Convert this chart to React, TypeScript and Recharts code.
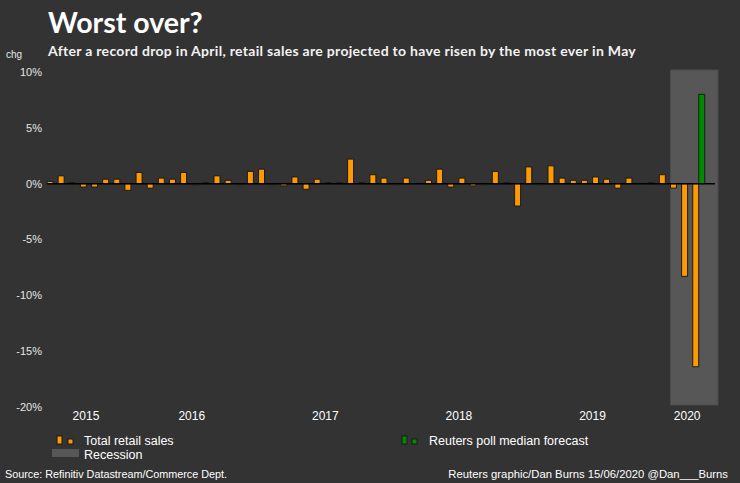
import { BarChart, Bar, XAxis, YAxis, ReferenceArea, ReferenceLine } from 'recharts';

document.body.style.margin = '0';

// monthly categories, Jun 2015 - May 2020
const months = [
  'Jun 2015', 'Jul 2015', 'Aug 2015', 'Sep 2015', 'Oct 2015', 'Nov 2015', 'Dec 2015',
  'Jan 2016', 'Feb 2016', 'Mar 2016', 'Apr 2016', 'May 2016', 'Jun 2016', 'Jul 2016', 'Aug 2016', 'Sep 2016', 'Oct 2016', 'Nov 2016', 'Dec 2016',
  'Jan 2017', 'Feb 2017', 'Mar 2017', 'Apr 2017', 'May 2017', 'Jun 2017', 'Jul 2017', 'Aug 2017', 'Sep 2017', 'Oct 2017', 'Nov 2017', 'Dec 2017',
  'Jan 2018', 'Feb 2018', 'Mar 2018', 'Apr 2018', 'May 2018', 'Jun 2018', 'Jul 2018', 'Aug 2018', 'Sep 2018', 'Oct 2018', 'Nov 2018', 'Dec 2018',
  'Jan 2019', 'Feb 2019', 'Mar 2019', 'Apr 2019', 'May 2019', 'Jun 2019', 'Jul 2019', 'Aug 2019', 'Sep 2019', 'Oct 2019', 'Nov 2019', 'Dec 2019',
  'Jan 2020', 'Feb 2020', 'Mar 2020', 'Apr 2020', 'May 2020',
];

// total retail sales, % change m/m
const retailSales: (number | null)[] = [
  0.2, 0.7, 0.1, -0.3, -0.3, 0.4, 0.4,
  -0.6, 1.0, -0.4, 0.5, 0.4, 1.0, -0.1, 0.1, 0.7, 0.3, -0.1, 1.1,
  1.3, -0.1, -0.2, 0.6, -0.5, 0.4, 0.1, 0.1, 2.2, 0.1, 0.8, 0.5,
  -0.1, 0.5, 0, 0.3, 1.3, -0.3, 0.5, -0.2, -0.1, 1.1, 0.1, -2.0,
  1.5, -0.1, 1.6, 0.5, 0.3, 0.3, 0.6, 0.4, -0.4, 0.5, 0, 0.1,
  0.8, -0.4, -8.3, -16.4, null,
];

// reuters poll median, drawn in the slot next to the last actual
const forecastMonth = 'Apr 2020';
const forecastValue = 8.0;

const years = ['2015', '2016', '2017', '2018', '2019', '2020'];
const yTicks = [-20, -15, -10, -5, 0, 5, 10];
const recessionStart = 'Feb 2020';
const recessionEnd = 'May 2020';

const ORANGE = '#ff9900';
const GREEN = '#008a00';
const BG = '#333333';
const SHADE = '#575757';

const W = 740;
const H = 483;
const M = { top: 72, right: 25, bottom: 56, left: 7 };
const Y_W = 40;
const BAND = (W - M.left - M.right - Y_W) / months.length;

const data = months.map((m, i) => ({
  month: m,
  sales: retailSales[i],
  forecast: m === forecastMonth ? forecastValue : null,
}));

// first month of each year + how many months that year has on the chart
const yearFirst = years.map((y) => months.find((m) => m.endsWith(y)) as string);
const yearCount = years.map((y) => months.filter((m) => m.endsWith(y)).length);

const font = '"Liberation Sans", Arial, sans-serif';

function YearTick(props: any) {
  const { x, y, payload } = props;
  const i = yearFirst.indexOf(payload.value);
  if (i < 0) return null;
  const cx = x + ((yearCount[i] - 1) * BAND) / 2;
  return (
    <text x={cx} y={y + 11} textAnchor="middle" fill="#ffffff" fontSize={12} fontFamily={font}>
      {years[i]}
    </text>
  );
}

// excel-style shading runs a touch past the plot edge
function RecessionShape(props: any) {
  const { x, y, width, height } = props;
  return <rect x={x} y={y - 2} width={width + 3} height={height}
    fill={SHADE} stroke="#4c4c4c" />;
}

export default function App() {
  return (
    <div style={{ position: 'relative', width: W, height: H, background: BG, overflow: 'hidden' }}>
      <BarChart width={W} height={H} data={data} barCategoryGap={0} barGap={0} margin={M}>
        <XAxis dataKey="month" ticks={yearFirst} interval={0} tick={<YearTick />}
          axisLine={false} tickLine={false} tickSize={0} tickMargin={2} height={20} />
        <YAxis domain={[-20, 10]} ticks={yTicks} interval={0} width={Y_W}
          tickFormatter={(v: number) => `${v}%`} axisLine={false} tickLine={false}
          tickSize={0} tickMargin={5} tick={{ fill: '#e6e6e6', fontSize: 11, fontFamily: font }} />
        <ReferenceArea x1={recessionStart} x2={recessionEnd} y1={-20} y2={10}
          ifOverflow="visible" shape={<RecessionShape />} />
        <Bar dataKey="sales" fill={ORANGE} stroke="#1a1a1a" strokeWidth={1} isAnimationActive={false} />
        <Bar dataKey="forecast" fill={GREEN} stroke="#1a1a1a" strokeWidth={1} isAnimationActive={false} />
        <ReferenceLine y={0} stroke="#000000" strokeWidth={1.5} />
      </BarChart>

      <svg width={W} height={H} style={{ position: 'absolute', left: 0, top: 0, pointerEvents: 'none' }}>
        <text x={48} y={33} fill="#ffffff" fontFamily="Lato, sans-serif" fontWeight={700} fontSize={28.5}>Worst over?</text>
        <text x={48} y={56} fill="#f2f2f2" fontFamily="Lato, sans-serif" fontWeight={700} fontSize={14} letterSpacing={0.3}>
          After a record drop in April, retail sales are projected to have risen by the most ever in May
        </text>
        <text x={6} y={58} fill="#e6e6e6" fontFamily={font} fontSize={10}>chg</text>

        <rect x={57} y={436} width={5} height={8} fill={ORANGE} stroke="#1a1a1a" />
        <rect x={68} y={439} width={5} height={5} fill={ORANGE} stroke="#1a1a1a" />
        <text x={84} y={445} fill="#ffffff" fontFamily={font} fontSize={12.5}>Total retail sales</text>
        <rect x={52} y={449} width={27} height={8} fill={SHADE} />
        <text x={84} y={459} fill="#ffffff" fontFamily={font} fontSize={12.5}>Recession</text>
        <rect x={402} y={436} width={5} height={8} fill={GREEN} stroke="#1a1a1a" />
        <rect x={412} y={439} width={5} height={5} fill={GREEN} stroke="#1a1a1a" />
        <text x={429} y={445} fill="#ffffff" fontFamily={font} fontSize={12.5}>Reuters poll median forecast</text>

        <text x={5} y={478} fill="#ffffff" fontFamily={font} fontSize={10.8}>Source: Refinitiv Datastream/Commerce Dept.</text>
        <text x={728} y={478} textAnchor="end" fill="#ffffff" fontFamily={font} fontSize={11.3}>
          Reuters graphic/Dan Burns 15/06/2020 @Dan___Burns
        </text>
      </svg>
    </div>
  );
}
